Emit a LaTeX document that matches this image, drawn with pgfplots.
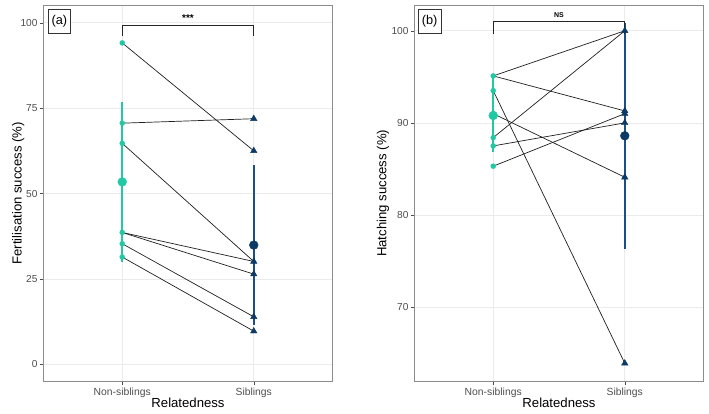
\documentclass[border=0pt]{standalone}
\usepackage{fontspec}
\setmainfont{Liberation Sans}
\usepackage{pgfplots}
\pgfplotsset{compat=1.18}

\definecolor{nsib}{HTML}{20C9A3}
\definecolor{sibpt}{HTML}{0C3A66}
\definecolor{sibbar}{HTML}{1C4F85}
\definecolor{gridc}{HTML}{EBEBEB}
\definecolor{framec}{HTML}{8C8C8C}
\definecolor{tickc}{HTML}{4D4D4D}

\pgfplotsset{
  panel/.style={
    scale only axis,
    width=289.4bp, height=376.7bp,
    xmin=0.4, xmax=2.6,
    xtick={1,2}, xticklabels={Non-siblings,Siblings},
    axis line style={framec, line width=0.7bp},
    grid=major,
    major grid style={gridc, line width=0.6bp},
    tick pos=left,
    tick align=outside,
    major tick length=3.6bp,
    tick style={tickc, line width=0.5bp},
    x tick label style={font=\fontsize{10.4}{11}\selectfont, text=tickc, inner sep=2bp},
    y tick label style={font=\fontsize{10.2}{11}\selectfont, text=tickc, inner sep=2bp},
    /pgf/number format/assume math mode=true,
    xlabel=Relatedness,
    xlabel style={font=\fontsize{13.2}{14}\selectfont,
      at={(axis description cs:0.5,-0.0573)}, anchor=center},
    ylabel style={font=\fontsize{13.2}{14}\selectfont, anchor=center},
  },
  pair/.style={black!88, line width=0.7bp, forget plot},
  brk/.style={black!85, line width=0.6bp, forget plot},
}
\tikzset{
  tag/.style={draw=black!80, line width=0.6bp, minimum width=22.5bp,
    minimum height=24.4bp, inner sep=0pt, fill=white,
    font=\fontsize{12.8}{13}\selectfont},
}

\begin{document}
\begin{tikzpicture}
\path[use as bounding box] (0,0) rectangle (709bp,414bp);

% ---------- (a) Fertilisation success ----------
\begin{axis}[panel,
  at={(43.3bp,32.3bp)}, anchor=south west,
  ymin=-5.1, ymax=105.2,
  ytick={0,25,50,75,100},
  ylabel={Fertilisation success (\%)},
  ylabel style={at={(axis description cs:-0.0864,0.5)}},
]
% mean +/- interval
\addplot[nsib, line width=2bp] coordinates {(1,30.0) (1,76.7)};
\addplot[sibbar, line width=2bp] coordinates {(2,11.6) (2,58.4)};
% individual pairs
\addplot[only marks, mark=*, mark size=2.5bp, nsib] coordinates {
  (1,94.1) (1,70.6) (1,64.7) (1,38.6) (1,35.3) (1,31.4)};
\addplot[only marks, mark=triangle*, mark size=3.7bp, sibpt] coordinates {
  (2,71.9) (2,62.5) (2,30.1) (2,26.4) (2,13.9) (2,9.7)};
% group means
\addplot[only marks, mark=*, mark size=4.4bp, nsib] coordinates {(1,53.4)};
\addplot[only marks, mark=*, mark size=4.4bp, sibpt] coordinates {(2,34.9)};
% paired lines
\addplot[pair] coordinates {(1,94.1) (2,62.5)};
\addplot[pair] coordinates {(1,70.6) (2,71.9)};
\addplot[pair] coordinates {(1,64.7) (2,30.1)};
\addplot[pair] coordinates {(1,38.6) (2,30.1)};
\addplot[pair] coordinates {(1,38.6) (2,26.4)};
\addplot[pair] coordinates {(1,35.3) (2,13.9)};
\addplot[pair] coordinates {(1,31.4) (2,9.7)};
% significance bracket
\addplot[brk] coordinates {(1,96.0) (1,99.3) (2,99.3) (2,96.0)};
\node[font=\bfseries\fontsize{10}{10}\selectfont] at (axis cs:1.5,101.5) {***};
\node[tag] at (axis description cs:0.0553,0.956) {(a)};
\end{axis}

% ---------- (b) Hatching success ----------
\begin{axis}[panel,
  at={(414.3bp,32.3bp)}, anchor=south west,
  ymin=61.9, ymax=102.8,
  ytick={70,80,90,100},
  ylabel={Hatching success (\%)},
  ylabel style={at={(axis description cs:-0.108,0.5)}},
]
\addplot[nsib, line width=2bp] coordinates {(1,86.8) (1,95.0)};
\addplot[sibbar, line width=2bp] coordinates {(2,76.3) (2,100.8)};
\addplot[only marks, mark=*, mark size=2.5bp, nsib] coordinates {
  (1,95.1) (1,93.5) (1,91.0) (1,88.4) (1,87.5) (1,85.3)};
\addplot[only marks, mark=triangle*, mark size=3.7bp, sibpt] coordinates {
  (2,100.0) (2,91.3) (2,91.0) (2,90.0) (2,84.1) (2,63.9)};
\addplot[only marks, mark=*, mark size=4.4bp, nsib] coordinates {(1,90.8)};
\addplot[only marks, mark=*, mark size=4.4bp, sibpt] coordinates {(2,88.6)};
\addplot[pair] coordinates {(1,95.1) (2,100.0)};
\addplot[pair] coordinates {(1,95.1) (2,91.3)};
\addplot[pair] coordinates {(1,93.5) (2,63.9)};
\addplot[pair] coordinates {(1,91.0) (2,84.1)};
\addplot[pair] coordinates {(1,88.4) (2,100.0)};
\addplot[pair] coordinates {(1,87.5) (2,90.0)};
\addplot[pair] coordinates {(1,85.3) (2,91.0)};
\addplot[brk] coordinates {(1,99.7) (1,101.0) (2,101.0) (2,99.7)};
\node[font=\bfseries\fontsize{7}{7}\selectfont] at (axis cs:1.5,101.65) {NS};
\node[tag] at (axis description cs:0.053,0.956) {(b)};
\end{axis}
\end{tikzpicture}
\end{document}
